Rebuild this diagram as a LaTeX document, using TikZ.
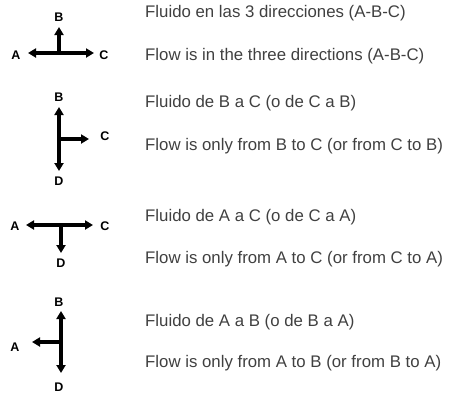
\documentclass[tikz,border=0pt]{standalone}
\usepackage{fontspec}
\setmainfont{Liberation Sans}
\usetikzlibrary{arrows.meta}

\begin{document}
\begin{tikzpicture}[x=1pt, y=-1pt,
    flux/.style={line width=3.4pt, -{Triangle[length=8pt, width=9pt]}},
    lettre/.style={font=\fontsize{12.5}{14}\selectfont\bfseries, inner sep=0pt},
    texte/.style={anchor=west, inner sep=0pt, text=black!75, font=\fontsize{16.8}{20}\selectfont}]
                \useasboundingbox (0,0) rectangle (452,394);

                % Trois directions
                \coordinate (j1) at (59,53);
                \coordinate (b1) at (59,27); \coordinate (a1) at (28,53); \coordinate (c1) at (94,53);
                \node[lettre] (B1) at (59,17) {B};
                \node[lettre] (A1) at (16,55) {A};
                \node[lettre] (C1) at (104,55) {C};
                \foreach \t in {b1, a1, c1} { \draw[flux] (j1) -- (\t); }
                \node[texte] (es1) at (145,13) {Fluido en las 3 direcciones (A-B-C)};
                \node[texte] (en1) at (145,56) {Flow is in the three directions (A-B-C)};

                % B vers C
                \coordinate (j2) at (59,139);
                \coordinate (b2) at (59,107); \coordinate (d2) at (59,171); \coordinate (c2) at (89,139);
                \node[lettre] (B2) at (59,97) {B};
                \node[lettre] (D2) at (59,181) {D};
                \node[lettre] (C2) at (105,136) {C};
                \foreach \t in {b2, d2, c2} { \draw[flux] (j2) -- (\t); }
                \node[texte] (es2) at (145,103) {Fluido de B a C (o de C a B)};
                \node[texte] (en2) at (145,146) {Flow is only from B to C (or from C to B)};

                % A vers C
                \coordinate (j3) at (61,225);
                \coordinate (a3) at (26,225); \coordinate (c3) at (93,225); \coordinate (d3) at (61,253);
                \node[lettre] (A3) at (15,226) {A};
                \node[lettre] (C3) at (105,226) {C};
                \node[lettre] (D3) at (61,263) {D};
                \foreach \t in {a3, c3, d3} { \draw[flux] (j3) -- (\t); }
                \node[texte] (es3) at (145,217) {Fluido de A a C (o de C a A)};
                \node[texte] (en3) at (145,259) {Flow is only from A to C (or from C to A)};

                % A vers B
                \coordinate (j4) at (61,342);
                \coordinate (b4) at (61,311); \coordinate (d4) at (61,373); \coordinate (a4) at (32,342);
                \node[lettre] (B4) at (59,302) {B};
                \node[lettre] (D4) at (59,387) {D};
                \node[lettre] (A4) at (15,347) {A};
                \foreach \t in {b4, d4, a4} { \draw[flux] (j4) -- (\t); }
                \node[texte] (es4) at (145,322) {Fluido de A a B (o de B a A)};
                \node[texte] (en4) at (145,363) {Flow is only from A to B (or from B to A)};
            \end{tikzpicture}
\end{document}
